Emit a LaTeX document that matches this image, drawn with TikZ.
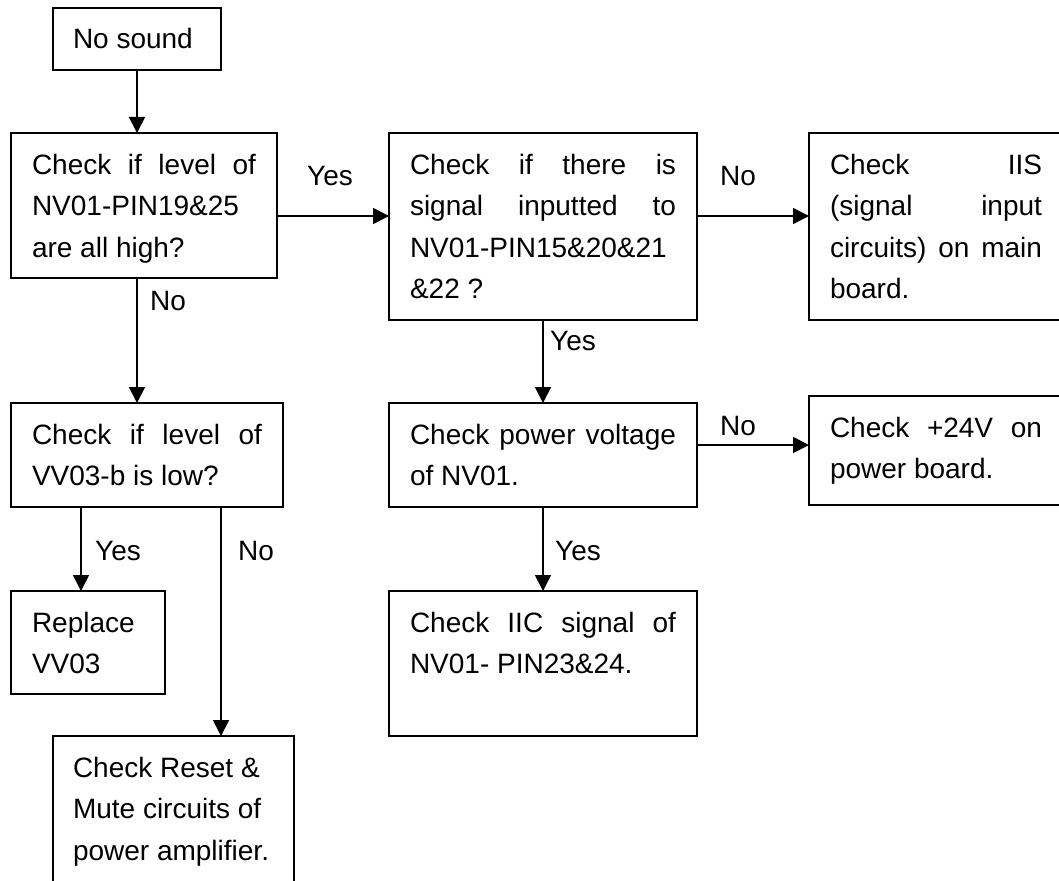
\documentclass[tikz,border=0pt]{standalone}
\usepackage{fontspec}
\setmainfont{Liberation Sans}
\usetikzlibrary{arrows.meta}
\newdimen\linew
\newcommand\bl[1]{\hbox to \linew{\vrule height21pt depth7pt width0pt\relax #1}}
\newcommand\boxtext[3]{\vbox to #2{\linew=#1\relax\hsize=#1\relax\baselineskip=41.5pt\lineskip=0pt\kern20pt #3\vss}}
\begin{document}
\begin{tikzpicture}[x=1pt,y=-1pt,
  box/.style={draw, line width=1.8pt, inner xsep=21pt, inner ysep=0pt, anchor=north west, outer sep=0pt, font=\fontsize{28}{41.5}\selectfont},
  arr/.style={line width=1.8pt, -{Triangle[length=16pt,width=16pt]}},
  lbl/.style={anchor=base west, inner sep=0pt, font=\fontsize{28}{34}\selectfont}]
\useasboundingbox (0,0) rectangle (1059,880);
\clip (0,0) rectangle (1059,880);

\node[box, inner xsep=20pt] (ns) at (53,8) {\boxtext{128pt}{62pt}{\bl{No sound\hfill}}};
\node[box] (b2) at (11,133) {\boxtext{224pt}{145pt}{\bl{Check\hfill if\hfill level\hfill of}\bl{NV01-PIN19\&25\hfill}\bl{are all high?\hfill}}};
\node[box] (b3) at (389,133) {\boxtext{266pt}{187pt}{\bl{Check\hfill if\hfill there\hfill is}\bl{signal\hfill inputted\hfill to}\bl{NV01-PIN15\&20\&21\hfill}\bl{\&22 ?\hfill}}};
\node[box] (b4) at (809,133) {\boxtext{212pt}{187pt}{\bl{Check\hfill IIS}\bl{(signal\hfill input}\bl{circuits)\hfill on\hfill main}\bl{board.\hfill}}};
\node[box] (b5) at (11,403) {\boxtext{230pt}{104pt}{\bl{Check\hfill if\hfill level\hfill of}\bl{VV03-b is low?\hfill}}};
\node[box] (b6) at (389,403) {\boxtext{266pt}{104pt}{\bl{Check\hfill power\hfill voltage}\bl{of NV01.\hfill}}};
\node[box] (b7) at (809,396) {\boxtext{212pt}{109pt}{\bl{Check\hfill +24V\hfill on}\bl{power board.\hfill}}};
\node[box] (rep) at (11,591) {\boxtext{112pt}{103pt}{\bl{Replace\hfill}\bl{VV03\hfill}}};
\node[box] (b9) at (389,591) {\boxtext{266pt}{145pt}{\bl{Check\hfill IIC\hfill signal\hfill of}\bl{NV01- PIN23\&24.\hfill}}};
\node[box, inner xsep=20pt] (b10) at (53,736) {\boxtext{201pt}{170pt}{\bl{Check Reset \&\hfill}\bl{Mute circuits of\hfill}\bl{power amplifier.\hfill}}};

\draw[arr] (ns.south) -- (ns.south |- b2.north);
\draw[arr] (b2.east |- 0,216) -- (b3.west |- 0,216);
\draw[arr] (b3.east |- 0,216) -- (b4.west |- 0,216);
\draw[arr] (ns.south |- b2.south) -- (ns.south |- b5.north);
\draw[arr] (b3.south) -- (b6.north);
\draw[arr] (b6.east |- 0,445) -- (b7.west |- 0,445);
\draw[arr] (b6.south) -- (b9.north);
\draw[arr] (b5.south -| 81,0) -- (rep.north -| 81,0);
\draw[arr] (b5.south -| 221,0) -- (b10.north -| 221,0);

\node[lbl] (l1) at (307,185) {Yes};
\node[lbl] (l2) at (720,185) {No};
\node[lbl] (l3) at (150,310) {No};
\node[lbl] (l4) at (550,350) {Yes};
\node[lbl] (l5) at (720,435) {No};
\node[lbl] (l6) at (555,560) {Yes};
\node[lbl] (l7) at (95,560) {Yes};
\node[lbl] (l8) at (238,560) {No};
\end{tikzpicture}
\end{document}
